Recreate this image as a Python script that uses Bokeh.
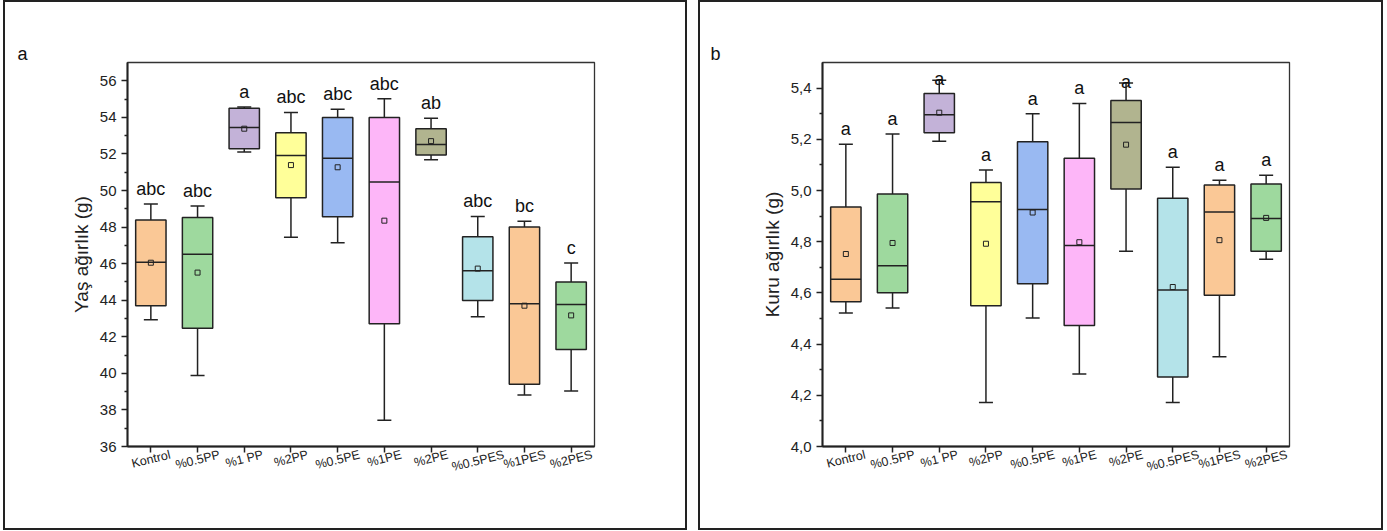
import math
from bokeh.plotting import figure
from bokeh.models import ColumnDataSource, FixedTicker, Range1d, Title, LinearAxis
from bokeh.layouts import row
from bokeh.embed import file_html
from bokeh.resources import INLINE
from bokeh.core.properties import value

categories = ["Kontrol", "%0.5PP", "%1 PP", "%2PP", "%0.5PE", "%1PE", "%2PE", "%0.5PES", "%1PES", "%2PES"]
box_colors = ["#FAC896", "#9ED99E", "#C3B2D8", "#FFFF99", "#99B9F2", "#FDB6F8", "#B1B48F", "#B4E3E9", "#FAC896", "#9ED99E"]

# Panel a : Yaş ağırlık (g)
wet_low = [42.93, 39.88, 52.11, 47.45, 47.14, 37.44, 51.68, 43.09, 38.81, 39.03]
wet_q1 = [43.70, 42.47, 52.29, 49.61, 48.56, 42.71, 51.94, 43.98, 39.40, 41.30]
wet_median = [46.07, 46.51, 53.45, 51.92, 51.76, 50.46, 52.51, 45.61, 43.81, 43.76]
wet_q3 = [48.38, 48.52, 54.50, 53.16, 53.99, 53.99, 53.38, 47.47, 48.01, 45.00]
wet_high = [49.26, 49.15, 54.56, 54.27, 54.45, 55.02, 53.95, 48.58, 48.32, 46.03]
wet_mean = [46.05, 45.51, 53.38, 51.39, 51.27, 48.35, 52.70, 45.73, 43.70, 43.17]
wet_letters = ["abc", "abc", "a", "abc", "abc", "abc", "ab", "abc", "bc", "c"]
wet_ticks = [36, 38, 40, 42, 44, 46, 48, 50, 52, 54, 56]
wet_tick_labels = ["36", "38", "40", "42", "44", "46", "48", "50", "52", "54", "56"]
wet_minor = [37, 39, 41, 43, 45, 47, 49, 51, 53, 55]

# Panel b : Kuru ağırlık (g)
dry_low = [4.521, 4.541, 5.192, 4.172, 4.502, 4.283, 4.763, 4.172, 4.351, 4.731]
dry_q1 = [4.565, 4.601, 5.226, 4.550, 4.636, 4.473, 5.006, 4.271, 4.591, 4.763]
dry_median = [4.653, 4.706, 5.296, 4.956, 4.926, 4.785, 5.266, 4.611, 4.916, 4.891]
dry_q3 = [4.936, 4.986, 5.379, 5.031, 5.190, 5.126, 5.352, 4.970, 5.021, 5.025]
dry_high = [5.181, 5.221, 5.431, 5.080, 5.300, 5.340, 5.420, 5.091, 5.040, 5.060]
dry_mean = [4.752, 4.795, 5.304, 4.792, 4.914, 4.798, 5.179, 4.623, 4.806, 4.893]
dry_letters = ["a", "a", "a", "a", "a", "a", "a", "a", "a", "a"]
dry_ticks = [4.0, 4.2, 4.4, 4.6, 4.8, 5.0, 5.2, 5.4]
dry_tick_labels = ["4,0", "4,2", "4,4", "4,6", "4,8", "5,0", "5,2", "5,4"]
dry_minor = [4.1, 4.3, 4.5, 4.7, 4.9, 5.1, 5.3]

FONT = "Liberation Sans"
INK = "#222222"
FRAME_W, FRAME_H = 463, 380
CAT_FONT_PX = 12.5
CAT_ANGLE = 0.24

# Arial / Liberation Sans advance widths (1/1000 em), used to centre the
# sloped category labels under their ticks (Bokeh right-aligns sloped labels).
_ADV = {"K": 667, "o": 556, "n": 556, "t": 278, "r": 333, "l": 222, "%": 889,
        "0": 556, ".": 278, "5": 556, "P": 667, "1": 556, " ": 278, "2": 556,
        "E": 667, "S": 667}


def text_width(s, px):
    return sum(_ADV.get(ch, 556) for ch in s) / 1000.0 * px


def make_panel(tag, tag_offset, ylabel, lo, q1, med, q3, hi, mean, letters, y_start, y_end,
               ticks, tick_labels, minor, b_left, b_right):
    n = len(categories)
    xs = list(range(n))
    ppu = FRAME_H / (y_end - y_start)
    xpu = FRAME_W / n
    yoff = [-15 if (h + 28 / ppu) <= y_end else -1 for h in hi]
    src = ColumnDataSource(dict(
        x=xs, lo=lo, q1=q1, med=med, q3=q3, hi=hi, mean=mean, color=box_colors,
        cat=categories, letters=letters,
        cl=[x - 0.15 for x in xs], cr=[x + 0.15 for x in xs],
        bl=[x - 0.325 for x in xs], br=[x + 0.325 for x in xs],
        yoff=yoff,
    ))
    p = figure(frame_width=FRAME_W, frame_height=FRAME_H,
               x_range=Range1d(-0.5, n - 0.5), y_range=Range1d(y_start, y_end),
               output_backend="svg", toolbar_location=None,
               min_border_left=b_left, min_border_right=b_right,
               min_border_top=60, min_border_bottom=86)
    p.styles = {"border": "2px solid #222222"}
    p.background_fill_color = "white"
    p.border_fill_color = "white"
    p.grid.visible = False
    p.outline_line_color = "#333333"
    p.outline_line_width = 1.3

    # whiskers with caps
    p.segment(x0="x", y0="lo", x1="x", y1="hi", source=src, line_color=INK, line_width=1.5)
    p.segment(x0="cl", y0="lo", x1="cr", y1="lo", source=src, line_color=INK, line_width=1.5)
    p.segment(x0="cl", y0="hi", x1="cr", y1="hi", source=src, line_color=INK, line_width=1.5)
    # boxes
    p.vbar(x="x", width=0.65, bottom="q1", top="q3", source=src, fill_color="color",
           line_color=INK, line_width=1.5)
    # medians
    p.segment(x0="bl", y0="med", x1="br", y1="med", source=src, line_color=INK, line_width=1.5)
    # means
    p.scatter(x="x", y="mean", source=src, marker="square", size=5, fill_color=None,
              line_color=INK, line_width=1)
    # significance letters
    p.text(x="x", y="hi", text="letters", source=src, y_offset="yoff",
           text_align="center", text_baseline="alphabetic",
           text_font=value(FONT), text_font_size="18px", text_color="#111111")

    # y axis
    p.yaxis.ticker = FixedTicker(ticks=ticks, minor_ticks=minor)
    p.yaxis.major_label_overrides = {t: s for t, s in zip(ticks, tick_labels)}
    # x axis carrying the tick marks only
    p.xaxis.ticker = FixedTicker(ticks=xs, minor_ticks=[])
    p.xaxis.major_label_overrides = {x: "" for x in xs}
    p.xaxis.major_label_text_font_size = "0px"
    p.xaxis.major_label_standoff = 0
    for ax in (p.xaxis[0], p.yaxis[0]):
        ax.axis_line_color = INK
        ax.axis_line_width = 2
        ax.major_tick_line_color = INK
        ax.major_tick_line_width = 1.5
        ax.major_tick_out = 6
        ax.major_tick_in = 0
        ax.minor_tick_line_color = INK
        ax.minor_tick_line_width = 1.5
        ax.minor_tick_out = 3
        ax.minor_tick_in = 0
        ax.major_label_text_font = FONT
        ax.major_label_text_color = INK
    p.yaxis.major_label_text_font_size = "15px"
    p.xaxis.minor_tick_line_color = None
    p.yaxis.axis_label = ylabel
    p.yaxis.axis_label_text_font = FONT
    p.yaxis.axis_label_text_font_size = "19px"
    p.yaxis.axis_label_text_font_style = "normal"
    p.yaxis.axis_label_text_color = INK
    p.yaxis.axis_label_standoff = 5

    # second (label-only) axis: sloped category names centred under the ticks
    shifted = [x + text_width(c, CAT_FONT_PX) / 2 * math.cos(CAT_ANGLE) / xpu
               for x, c in zip(xs, categories)]
    lab_axis = LinearAxis(ticker=FixedTicker(ticks=shifted, minor_ticks=[]),
                          major_label_overrides={s: c for s, c in zip(shifted, categories)},
                          major_label_orientation=CAT_ANGLE,
                          axis_line_color=None, major_tick_line_color=None,
                          minor_tick_line_color=None, major_tick_out=0, major_tick_in=0,
                          minor_tick_out=0, minor_tick_in=0, major_label_standoff=2,
                          major_label_text_font=FONT,
                          major_label_text_font_size=f"{CAT_FONT_PX}px",
                          major_label_text_color=INK)
    p.add_layout(lab_axis, "below")

    # panel tag
    p.add_layout(Title(text=tag, align="left", offset=-(b_left - tag_offset), standoff=-3,
                       text_font=FONT, text_font_size="18px",
                       text_font_style="normal", text_color="#111111"), "above")
    return p


pa = make_panel("a", 12, "Yaş ağırlık (g)", wet_low, wet_q1, wet_median, wet_q3, wet_high,
                wet_mean, wet_letters, 36, 57, wet_ticks, wet_tick_labels, wet_minor,
                122, 95)
pb = make_panel("b", 10, "Kuru ağırlık (g)", dry_low, dry_q1, dry_median, dry_q3, dry_high,
                dry_mean, dry_letters, 4.0, 5.5, dry_ticks, dry_tick_labels, dry_minor,
                122, 96)
pa.margin = (0, 0, 0, 3)

layout = row(pa, pb, spacing=11)
open("out.html", "w").write(file_html(layout, INLINE))
